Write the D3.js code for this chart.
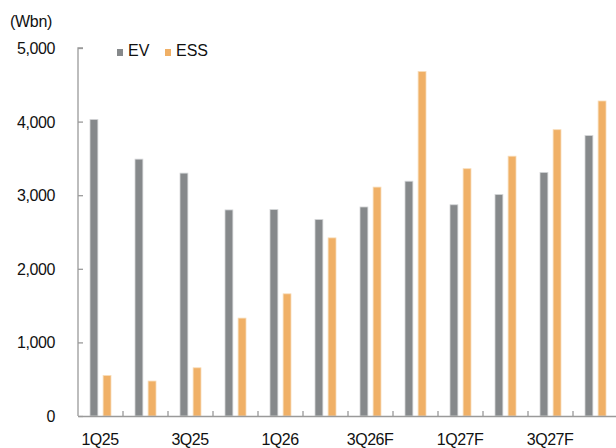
<!DOCTYPE html>
<html>
<head>
<meta charset="utf-8">
<script src="https://cdn.jsdelivr.net/npm/d3@7"></script>
<style>
  body { margin: 0; background: #fff; }
  text { font-family: "Liberation Sans", Arial, sans-serif; fill: #111; }
</style>
</head>
<body>
<div id="chart1"></div>
<script>
// DATA
const quarters = ["1Q25","2Q25","3Q25","4Q25","1Q26","2Q26","3Q26F","4Q26F","1Q27F","2Q27F","3Q27F","4Q27F"];
const evValues  = [4030, 3490, 3300, 2800, 2805, 2670, 2840, 3190, 2870, 3010, 3310, 3810];
const essValues = [550, 475, 655, 1330, 1660, 2420, 3110, 4680, 3360, 3530, 3890, 4280];
const yTicks = [0, 1000, 2000, 3000, 4000, 5000];
const shownLabels = ["1Q25","3Q25","1Q26","3Q26F","1Q27F","3Q27F"];
const seriesNames = ["EV", "ESS"];

const chartwidth = 616;
const chartheight = 448;
const margin = {top: 48, left: 78, right: -2, bottom: 32};
const colors = {EV: "#86898b", ESS: "#f0b066"};

const svg = d3.select("#chart1")
    .append("svg")
    .attr("width", chartwidth)
    .attr("height", chartheight);

// SCALES
const xScale = d3.scaleBand()
    .domain(quarters)
    .range([margin.left, chartwidth - margin.right]);

const xSub = d3.scaleBand()
    .domain(seriesNames)
    .range([12, 33])
    .paddingInner(0.4);

const yScale = d3.scaleLinear()
    .domain([0, 5000])
    .range([chartheight - margin.bottom, margin.top]);

// MARKS
const rows = quarters.map(function(q, i) {
    return {q: q, EV: evValues[i], ESS: essValues[i]};
});

const groups = svg.selectAll("g.grp")
    .data(rows)
    .enter()
    .append("g")
    .attr("class", "grp")
    .attr("transform", d => `translate(${xScale(d.q)},0)`);

groups.selectAll("rect")
    .data(d => seriesNames.map(k => ({key: k, value: d[k]})))
    .enter()
    .append("rect")
    .attr("x", d => xSub(d.key))
    .attr("y", d => yScale(d.value))
    .attr("width", xSub.bandwidth())
    .attr("height", d => yScale(0) - yScale(d.value))
    .attr("fill", d => colors[d.key])
    .attr("stroke", d => d.key === "EV" ? "#d4d6d8" : "#f8dcb8")
    .attr("stroke-width", 0.8);

// AXES
const yAxis = svg.append("g")
    .attr("transform", `translate(${margin.left},0)`)
    .call(d3.axisRight(yScale).tickValues(yTicks).tickSize(5).tickFormat(""));
yAxis.selectAll("line, path").attr("stroke", "#9a9a9a").attr("stroke-width", 1.3);
yAxis.select(".domain").attr("d", `M5,${yScale(5000)}H0V${yScale(0)}`);

svg.selectAll("text.ylab")
    .data(yTicks)
    .enter()
    .append("text")
    .attr("class", "ylab")
    .attr("x", 55)
    .attr("y", d => yScale(d) + 6)
    .attr("text-anchor", "end")
    .style("font-size", "16px")
    .style("letter-spacing", "-0.4px")
    .text(d => d3.format(",")(d));

const xAxis = svg.append("g")
    .attr("transform", `translate(0,${yScale(0)})`)
    .call(d3.axisTop(xScale).tickSize(0).tickFormat(""));
xAxis.select(".domain").attr("stroke", "#9a9a9a").attr("stroke-width", 1.3);

svg.selectAll("line.xtick")
    .data(quarters)
    .enter()
    .append("line")
    .attr("class", "xtick")
    .attr("x1", d => xScale(d) + xScale.bandwidth())
    .attr("x2", d => xScale(d) + xScale.bandwidth())
    .attr("y1", yScale(0))
    .attr("y2", yScale(0) - 5)
    .attr("stroke", "#9a9a9a")
    .attr("stroke-width", 1.3);

svg.selectAll("text.xlab")
    .data(shownLabels)
    .enter()
    .append("text")
    .attr("class", "xlab")
    .attr("x", d => xScale(d) + 22)
    .attr("y", 445)
    .attr("text-anchor", "middle")
    .style("font-size", "16px")
    .style("letter-spacing", "-0.5px")
    .text(d => d);

// UNIT LABEL
svg.append("text")
    .attr("x", 10)
    .attr("y", 27)
    .style("font-size", "16px")
    .style("letter-spacing", "-0.3px")
    .text("(Wbn)");

// LEGEND
const legend = svg.selectAll("g.leg")
    .data(seriesNames)
    .enter()
    .append("g")
    .attr("class", "leg")
    .attr("transform", (d, i) => `translate(${117 + i * 48},0)`);

legend.append("rect")
    .attr("x", 0)
    .attr("y", 49)
    .attr("width", 6)
    .attr("height", 7)
    .attr("fill", d => colors[d]);

legend.append("text")
    .attr("x", 11)
    .attr("y", 56)
    .style("font-size", "16px")
    .text(d => d);
</script>
</body>
</html>
